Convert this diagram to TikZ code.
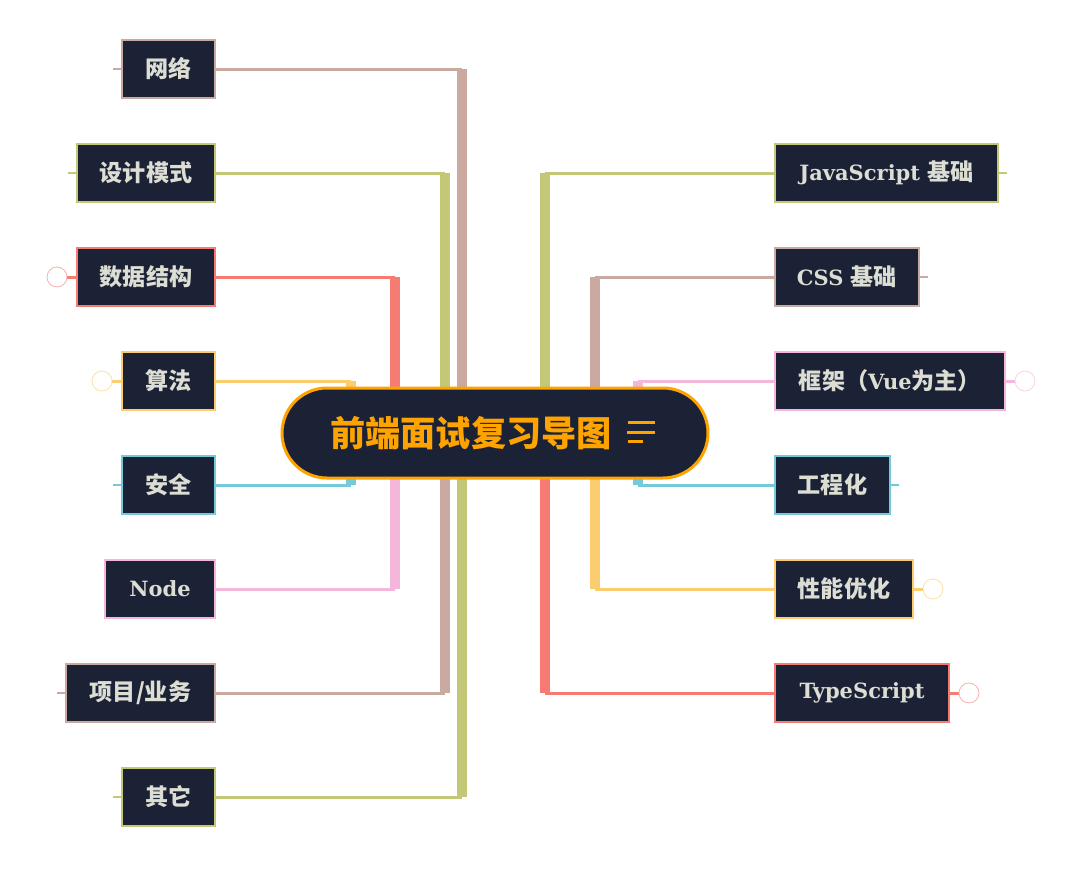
\documentclass[tikz,border=0pt]{standalone}
\usepackage{fontspec}
\setmainfont{DejaVu Serif}
\newfontfamily\cjk[Scale=1.1]{Noto Sans CJK SC}
\usepackage{tikz}
\usetikzlibrary{backgrounds}

\definecolor{navy}{HTML}{1C2235}
\definecolor{paper}{HTML}{DCDDD3}
\definecolor{corange}{HTML}{FFA300}
\definecolor{cbrown}{HTML}{C9A9A0}
\definecolor{colive}{HTML}{C2C875}
\definecolor{cred}{HTML}{F67B73}
\definecolor{cyellow}{HTML}{FCCD6E}
\definecolor{ccyan}{HTML}{74CADB}
\definecolor{cpink}{HTML}{F4B6DA}

\newcommand{\zh}[1]{{\cjk #1}}

\tikzset{
  topic/.style={draw=#1, line width=2pt, fill=navy, text=paper, minimum height=58pt,
    inner xsep=0pt, font=\bfseries\fontsize{21}{21}\selectfont},
  root/.style={draw=corange, line width=3pt, fill=navy, text=corange, rounded corners=45pt,
    minimum width=426pt, minimum height=90pt, inner sep=0pt,
    font=\bfseries\fontsize{32}{32}\selectfont},
  trunk/.style={draw=#1, line width=10pt},
  twig/.style={draw=#1, line width=3pt},
  stub/.style={draw=#1, line width=2pt},
  fold/.style={circle, draw=#1!60, fill=white, line width=0.8pt, minimum size=20pt, inner sep=0pt},
}

\begin{document}
\begin{tikzpicture}[x=1pt, y=-1pt]
\useasboundingbox (0,0) rectangle (1080,871);

% central topic
\node [root] (root) at (495,433) {\zh{前端面试复习导图}\makebox[48pt]{}};
\draw [corange, line width=3pt] ([xshift=133pt,yshift=11pt]root.center) -- ([xshift=160pt,yshift=11pt]root.center);
\draw [corange, line width=3pt] ([xshift=132pt,yshift=1pt]root.center) -- ([xshift=160pt,yshift=1pt]root.center);
\draw [corange, line width=3pt] ([xshift=133pt,yshift=-8pt]root.center) -- ([xshift=148pt,yshift=-8pt]root.center);

% left branches
\node [topic=cbrown, minimum width=93pt, anchor=east] (wl) at (216,69) {\zh{网络}};
\node [topic=colive, minimum width=138pt, anchor=east] (sj) at (216,173) {\zh{设计模式}};
\node [topic=cred, minimum width=138pt, anchor=east] (sg) at (216,277) {\zh{数据结构}};
\node [topic=cyellow, minimum width=93pt, anchor=east] (sf) at (216,381) {\zh{算法}};
\node [topic=ccyan, minimum width=93pt, anchor=east] (aq) at (216,485) {\zh{安全}};
\node [topic=cpink, minimum width=110pt, anchor=east] (nd) at (216,589) {Node};
\node [topic=cbrown, minimum width=149pt, anchor=east] (xm) at (216,693) {\zh{项目/业务}};
\node [topic=colive, minimum width=93pt, anchor=east] (qt) at (216,797) {\zh{其它}};

% right branches
\node [topic=colive, minimum width=223pt, anchor=west] (js) at (774,173) {JavaScript \zh{基础}};
\node [topic=cbrown, minimum width=144pt, anchor=west] (css) at (774,277) {CSS \zh{基础}};
\node [topic=cpink, minimum width=230pt, anchor=west] (kj) at (774,381) {\zh{框架（}Vue\zh{为主）}};
\node [topic=ccyan, minimum width=115pt, anchor=west] (gc) at (774,485) {\zh{工程化}};
\node [topic=cyellow, minimum width=138pt, anchor=west] (xn) at (774,589) {\zh{性能优化}};
\node [topic=cred, minimum width=174pt, anchor=west] (ts) at (774,693) {TypeScript};

% collapsed markers
\node [fold=cred] (sg-f) at ([xshift=-19pt]sg.west) {};
\node [fold=cyellow] (sf-f) at ([xshift=-19pt]sf.west) {};
\node [fold=cpink] (kj-f) at ([xshift=19pt]kj.east) {};
\node [fold=cyellow] (xn-f) at ([xshift=19pt]xn.east) {};
\node [fold=cred] (ts-f) at ([xshift=19pt]ts.east) {};

\begin{scope}[on background layer]
\fill [white] (0,0) rectangle (1080,871);
\foreach \n/\a/\dx/\c in {wl/east/-33/cbrown, sj/east/-50/colive, sg/east/-100/cred,
    sf/east/-144/cyellow, aq/east/-144/ccyan, nd/east/-100/cpink, xm/east/-50/cbrown,
    qt/east/-33/colive, js/west/50/colive, css/west/100/cbrown, kj/west/143/cpink,
    gc/west/143/ccyan, xn/west/100/cyellow, ts/west/50/cred}{
  \coordinate (k-\n) at ([xshift=\dx pt]root.center);
  \draw [trunk=\c] (k-\n) -- (k-\n |- \n.\a);
  \draw [twig=\c] (\n.\a) -- (k-\n |- \n.\a);
}
% outer stubs
\foreach \n/\c in {wl/cbrown, sj/colive, aq/ccyan, xm/cbrown, qt/colive}{
  \coordinate (\n-s) at ([xshift=-8pt]\n.west);
  \draw [stub=\c] (\n.west) -- (\n-s);
}
\foreach \n/\c in {js/colive, css/cbrown, gc/ccyan}{
  \coordinate (\n-s) at ([xshift=8pt]\n.east);
  \draw [stub=\c] (\n.east) -- (\n-s);
}
\foreach \n/\a/\c in {sg/west/cred, sf/west/cyellow, kj/east/cpink, xn/east/cyellow, ts/east/cred}{
  \draw [stub=\c, line width=3pt] (\n.\a) -- (\n-f);
}
\end{scope}

\end{tikzpicture}
\end{document}
